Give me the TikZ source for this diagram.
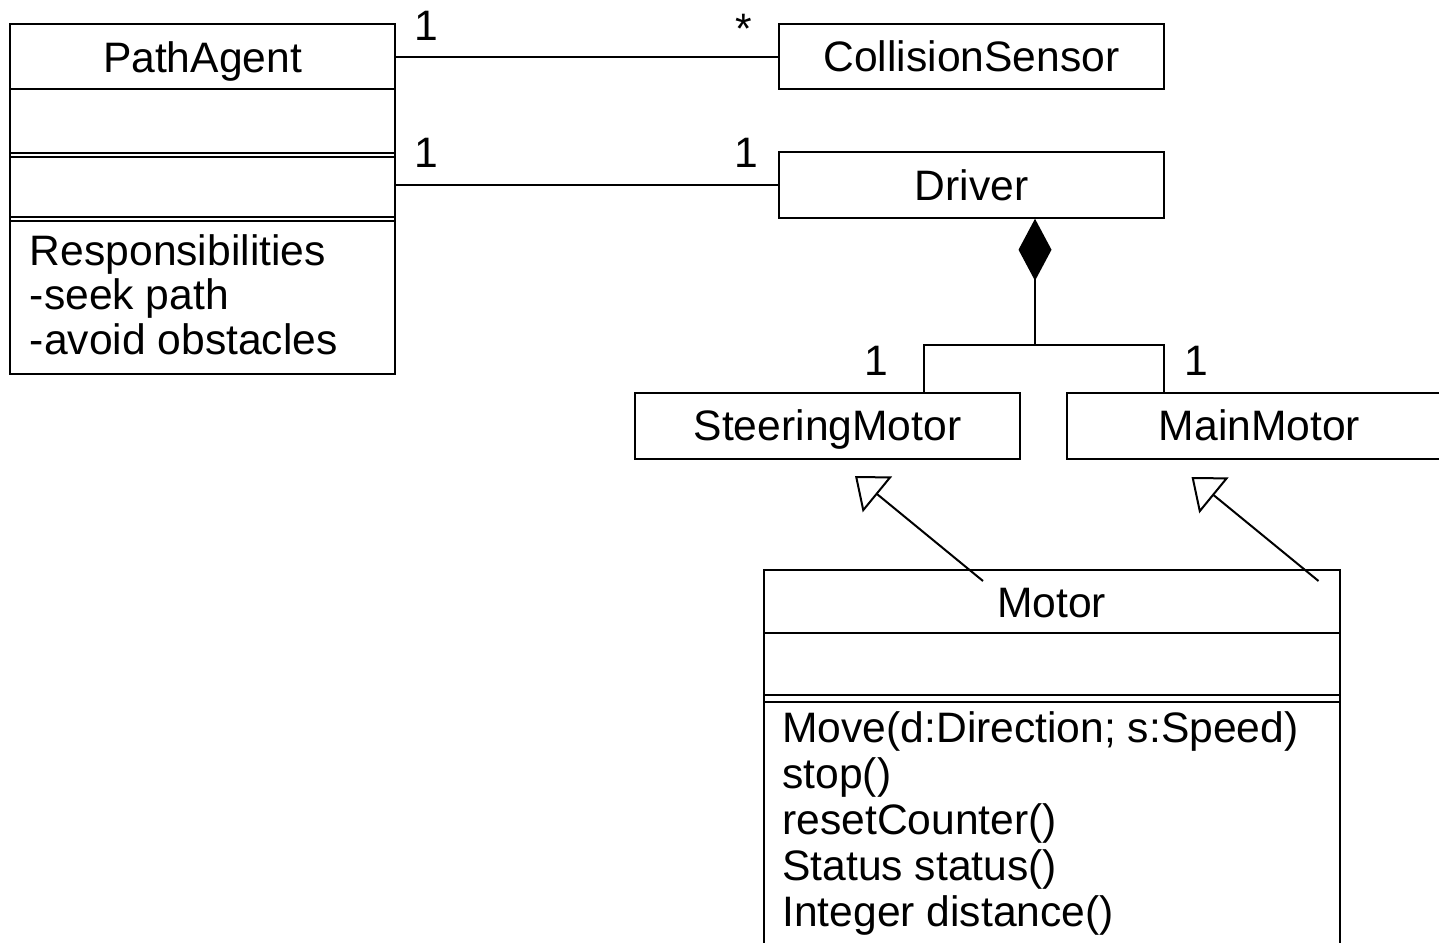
\documentclass[tikz,border=0pt]{standalone}
\usepackage{fontspec}
\setmainfont{Liberation Sans}
\usetikzlibrary{arrows.meta}
\newcommand\umlfont{\fontsize{21.3pt}{23pt}\selectfont}
\begin{document}
\begin{tikzpicture}[x=0.5pt,y=-0.5pt,
  ln/.style={line width=1pt},
  cls/.style={draw, line width=1pt, inner sep=0pt, minimum width=192.5pt, minimum height=32.75pt, text height=15pt, text depth=0pt, font=\umlfont},
  frame/.style={draw, line width=1pt, inner sep=0pt},
  txt/.style={inner sep=0pt, font=\umlfont},
  mult/.style={inner sep=0pt, font=\umlfont, anchor=base},
  gen/.style={line width=1pt, -{Triangle[open, length=14.5pt, width=23pt]}},
  comp/.style={line width=1pt, {Diamond[length=31pt, width=16.5pt]}-}
]
\clip (0,0) rectangle (1439,942);
\fill[white] (0,0) rectangle (1439,942);

% PathAgent
\node[frame, minimum width=192.5pt, minimum height=175pt] (pa) at (202.5,199) {};
\node[txt, anchor=base] (pa-name) at (202.5,72) {PathAgent};
\draw[ln] (10,88.5) -- (395,88.5);
\draw[ln] (10,152.7) -- (395,152.7);
\draw[ln] (10,156.7) -- (395,156.7);
\draw[ln] (10,216.7) -- (395,216.7);
\draw[ln] (10,220.7) -- (395,220.7);
\node[txt, anchor=base west] (r1) at (29.5,265) {Responsibilities};
\node[txt, anchor=base west] (r2) at (29.5,309.5) {-seek path};
\node[txt, anchor=base west] (r3) at (29.5,354) {-avoid obstacles};

% simple classes
\node[cls] (cs) at (971.5,56.7) {CollisionSensor};
\node[cls] (dr) at (971.5,185) {Driver};
\node[cls] (sm) at (827.5,425.8) {SteeringMotor};
\node[cls] (mm) at (1259.5,425.8) {MainMotor};

% Motor
\node[frame, minimum width=288pt, minimum height=200pt] (mo) at (1051.5,770) {};
\node[txt, anchor=base] (mo-name) at (1051.5,617) {Motor};
\draw[ln] (763.5,633) -- (1339.5,633);
\draw[ln] (763.5,695) -- (1339.5,695);
\draw[ln] (763.5,701.5) -- (1339.5,701.5);
\node[txt, anchor=base west] (op1) at (782,742) {Move(d:Direction; s:Speed)};
\node[txt, anchor=base west] (op2) at (782,788) {stop()};
\node[txt, anchor=base west] (op3) at (782,834) {resetCounter()};
\node[txt, anchor=base west] (op4) at (782,880) {Status status()};
\node[txt, anchor=base west] (op5) at (782,926) {Integer distance()};

% associations
\draw[ln] (pa.east |- cs.west) -- (cs.west);
\draw[ln] (pa.east |- dr.west) -- (dr.west);
\node[mult] (m1) at (426,40) {1};
\node[mult] (m2) at (743.5,43) {*};
\node[mult] (m3) at (426.5,167) {1};
\node[mult] (m4) at (746.5,167) {1};
\node[mult] (m5) at (876,375) {1};
\node[mult] (m6) at (1196,375) {1};

% composition
\coordinate (jc) at (1035,345);
\coordinate (jl) at (924,345);
\coordinate (jr) at (1164,345);
\draw[comp] (dr.south -| jc) -- (jc);
\draw[ln] (sm.north -| jl) -- (jl) -- (jr) -- (mm.north -| jr);

% generalizations
\coordinate (gls) at (983,581);
\coordinate (gl) at (855,476);
\coordinate (grs) at (1318.5,581);
\coordinate (gr) at (1191.5,477);
\draw[gen] (gls) -- (gl);
\draw[gen] (grs) -- (gr);
\end{tikzpicture}
\end{document}
